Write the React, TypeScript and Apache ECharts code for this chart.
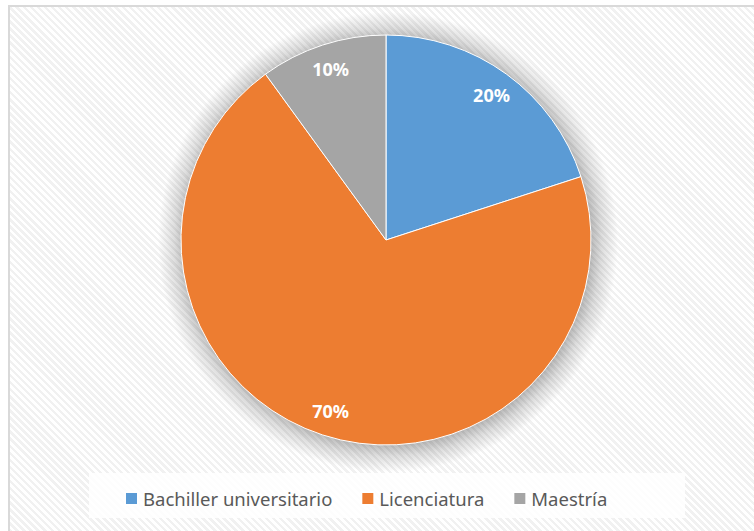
import React, { useEffect, useRef } from "react";
import * as echarts from "echarts";

const categories = ["Bachiller universitario", "Licenciatura", "Maestría"];
const values = [20, 70, 10];
const colors = ["#5B9BD5", "#ED7D31", "#A5A5A5"];

export default function App() {
  const ref = useRef<HTMLDivElement>(null);
  useEffect(() => {
    if (!ref.current) return;
    const chart = echarts.init(ref.current, undefined, { renderer: "svg" });
    const data = categories.map((name, i) => ({
      name,
      value: values[i],
      itemStyle: { color: colors[i] },
    }));
    chart.setOption({
      animation: false,
      backgroundColor: "transparent",
      graphic: [
        {
          type: "rect",
          left: 89,
          top: 473,
          shape: { width: 596, height: 45 },
          style: { fill: "rgba(255,255,255,0.85)" },
          silent: true,
          z: -1,
        },
        {
          type: "circle",
          shape: { cx: 388, cy: 242, r: 230 },
          style: {
            fill: {
              type: "radial",
              x: 0.5,
              y: 0.5,
              r: 0.5,
              colorStops: [
                { offset: 0, color: "rgba(0,0,0,0.3)" },
                { offset: 0.87, color: "rgba(0,0,0,0.3)" },
                { offset: 0.93, color: "rgba(0,0,0,0.13)" },
                { offset: 1, color: "rgba(0,0,0,0)" },
              ],
            },
          },
          silent: true,
          z: -1,
        },
      ],
      legend: {
        data: categories.map((name, i) => ({ name, itemStyle: { color: colors[i] } })),
        left: 119,
        top: 484,
        icon: "rect",
        itemWidth: 13,
        itemHeight: 13,
        itemGap: 28,
        selectedMode: false,
        textStyle: {
          fontFamily: "Noto Sans",
          fontSize: 18.5,
          color: "#595959",
        },
      },
      series: [
        {
          type: "pie",
          center: [386, 240],
          radius: [0, 205],
          startAngle: 90,
          clockwise: true,
          silent: true,
          data,
          label: { show: false },
          labelLine: { show: false },
          itemStyle: {
            borderColor: "#ffffff",
            borderWidth: 1,
          },
        },
        {
          type: "pie",
          center: [386, 240],
          radius: [145, 208],
          startAngle: 90,
          clockwise: true,
          silent: true,
          data: categories.map((name, i) => ({
            name,
            value: values[i],
            itemStyle: { color: "rgba(0,0,0,0)" },
          })),
          label: {
            show: true,
            position: "inside",
            formatter: "{d}%",
            color: "#ffffff",
            fontFamily: "Noto Sans",
            fontWeight: "bold",
            fontSize: 18,
          },
          labelLine: { show: false },
        },
      ],
    });
    return () => chart.dispose();
  }, []);
  return (
    <div style={{ position: "fixed", left: 0, top: 0, width: 754, height: 531, background: "#ffffff" }}>
      <div
        style={{
          position: "absolute",
          left: 8,
          top: 5,
          width: 760,
          height: 540,
          boxSizing: "border-box",
          border: "2px solid #d9d9d9",
          background:
            "repeating-linear-gradient(45deg, #ffffff 0px, #ffffff 2.5px, #f1f1f1 2.5px, #f1f1f1 5px)",
        }}
      />
      <div ref={ref} style={{ position: "absolute", left: 0, top: 0, width: 754, height: 531 }} />
    </div>
  );
}
